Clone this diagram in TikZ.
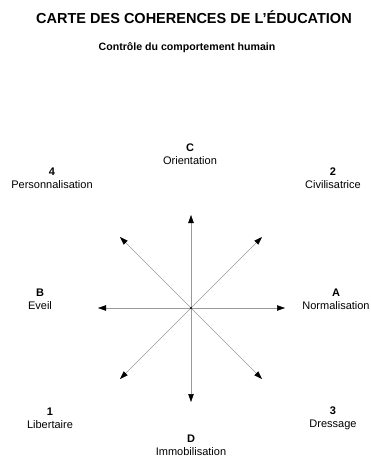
\documentclass[tikz,border=0pt]{standalone}
\usepackage{fontspec}
\setmainfont{Liberation Sans}
\usetikzlibrary{arrows.meta}
\tikzset{
  axis/.style={draw=black!40, line width=0.5pt, -{Triangle[length=8pt,width=5.5pt,color=black]}},
  lbl/.style={align=center, inner sep=0pt, font=\fontsize{11}{13}\selectfont},
  titletext/.style={inner sep=0pt, font=\bfseries\fontsize{14.5}{17}\selectfont},
  subtext/.style={inner sep=0pt, font=\bfseries\fontsize{10.6}{13}\selectfont}
}
\begin{document}
\begin{tikzpicture}[x=1pt,y=-1pt]
\useasboundingbox (0,0) rectangle (370,461);
\node[titletext] (title) at (194,17) {CARTE DES COHERENCES DE L'ÉDUCATION};
\node[subtext] (sub) at (187,48) {Contrôle du comportement humain};

\coordinate (O) at (191,308);
\coordinate (tN) at (191,215);
\coordinate (tS) at (191,402);
\coordinate (tW) at (98,308);
\coordinate (tE) at (285,308);
\coordinate (tNW) at (120,237);
\coordinate (tNE) at (262,237);
\coordinate (tSW) at (120,379);
\coordinate (tSE) at (262,379);

\foreach \t in {tN,tS,tW,tE,tNW,tNE,tSW,tSE}{
  \draw[axis] (O) -- (\t);
}
\fill[black] (O) circle (1.2);

\node[lbl] (C) at (190,154) {\textbf{C}\\Orientation};
\node[lbl] (L4) at (52,178) {\textbf{4}\\Personnalisation};
\node[lbl] (L2) at (333,178) {\textbf{2}\\Civilisatrice};
\node[lbl] (B) at (40,299) {\textbf{B}\\Eveil};
\node[lbl] (A) at (336,299) {\textbf{A}\\Normalisation};
\node[lbl] (L1) at (50,418) {\textbf{1}\\Libertaire};
\node[lbl] (L3) at (333,418) {\textbf{3}\\Dressage};
\node[lbl] (D) at (191,445) {\textbf{D}\\Immobilisation};
\end{tikzpicture}
\end{document}
